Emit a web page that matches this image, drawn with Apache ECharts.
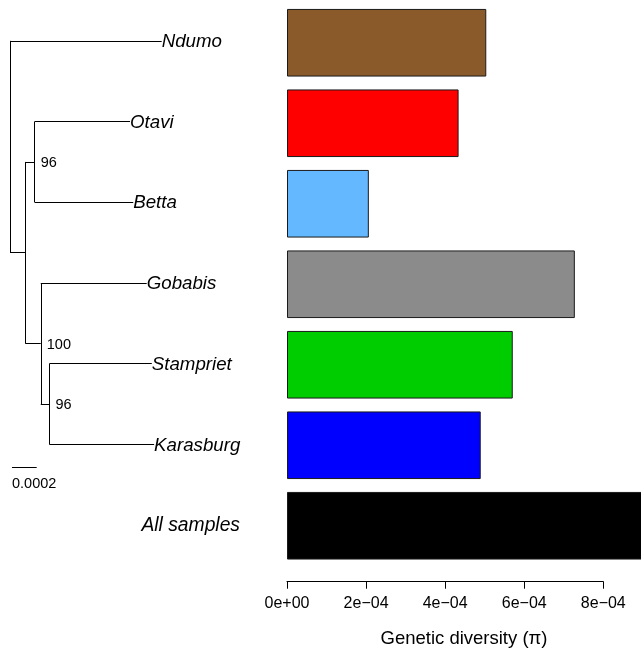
<!DOCTYPE html>
<html><head><meta charset="utf-8">
<script src="https://cdn.jsdelivr.net/npm/echarts@6/dist/echarts.min.js"></script>
<style>html,body{margin:0;padding:0;background:#fff}#c{width:641px;height:648px}</style>
</head><body><div id="c"></div>
<script>
// ---- data ----
const categories = ['Ndumo', 'Otavi', 'Betta', 'Gobabis', 'Stampriet', 'Karasburg', 'All samples'];
const diversity = [5.04e-4, 4.34e-4, 2.07e-4, 7.28e-4, 5.71e-4, 4.90e-4, 9.3e-4];
const barColors = ['#8B5A2B', '#FF0000', '#63B8FF', '#8B8B8B', '#00CD00', '#0000FF', '#000000'];
const xTicks = [0, 2e-4, 4e-4, 6e-4, 8e-4];
const axisTitle = 'Genetic diversity (\u03C0)';
// tree nodes: [label / support, branch length, children]
const tree = ['', 0, [
  ['Ndumo', 0.001228],
  ['', 0.000124, [
    ['96', 0.000076, [['Otavi', 0.000772], ['Betta', 0.000798]]],
    ['100', 0.000125, [
      ['Gobabis', 0.000858],
      ['96', 0.000070, [['Stampriet', 0.000829], ['Karasburg', 0.000848]]]
    ]]
  ]]
]];
const scaleBarLength = 0.0002;
const scaleBarLabel = '0.0002';

// ---- tree layout (cladogram with branch lengths) ----
let tipIdx = 0;
const segments = [], tipPts = [], nodePts = [];
function lay(node, x0) {
  const x = x0 + node[1];
  if (!node[2]) {
    const y = tipIdx++;
    tipPts.push({ name: node[0], value: [x, y] });
    segments.push({ coords: [[x0, y], [x, y]] });
    return y;
  }
  const ys = node[2].map(c => lay(c, x));
  const y = (ys[0] + ys[ys.length - 1]) / 2;
  segments.push({ coords: [[x, ys[0]], [x, ys[ys.length - 1]]] });
  if (node[1] > 0) segments.push({ coords: [[x0, y], [x, y]] });
  if (node[0]) nodePts.push({ name: node[0], value: [x, y] });
  return y;
}
lay(tree, 0);
const sbX = 0.000016, sbY = 5.283;
segments.push({ coords: [[sbX, sbY], [sbX + scaleBarLength, sbY]] });

const FONT = '"Liberation Sans", Arial, Helvetica, sans-serif';
function fmtTick(v) {
  if (v === 0) return '0e+00';
  const parts = v.toExponential(0).split('e');
  const e = parseInt(parts[1], 10);
  return parts[0] + 'e' + (e < 0 ? '\u2212' : '+') + String(Math.abs(e)).padStart(2, '0');
}

const chart = echarts.init(document.getElementById('c'), null, { renderer: 'canvas' });
chart.setOption({
  animation: false,
  backgroundColor: '#ffffff',
  textStyle: { fontFamily: FONT },
  grid: [
    { left: 287, right: 37.7, top: 2.5, bottom: 82, containLabel: false },
    { left: 10, top: 0.5, width: 247, height: 565, containLabel: false }
  ],
  xAxis: [
    {
      type: 'value', gridIndex: 0, min: 0, max: 8e-4, interval: 2e-4, offset: 15.7,
      splitLine: { show: false },
      axisLine: { show: true, onZero: false, lineStyle: { color: '#000', width: 1 } },
      axisTick: { show: true, inside: false, length: 7, lineStyle: { color: '#000' } },
      axisLabel: { color: '#000', fontSize: 16, margin: 14, fontFamily: FONT, formatter: fmtTick,
                   showMinLabel: true, showMaxLabel: true }
    },
    { type: 'value', gridIndex: 1, min: 0, max: 0.002, show: false }
  ],
  yAxis: [
    {
      type: 'category', gridIndex: 0, data: categories, inverse: true,
      axisLine: { show: false }, axisTick: { show: false }, splitLine: { show: false },
      axisLabel: {
        show: true, margin: 47, fontSize: 19.3, fontStyle: 'italic', color: '#000', fontFamily: FONT,
        padding: [0, 0, 8, 0],
        formatter: v => (v === 'All samples' ? v : '')
      }
    },
    { type: 'value', gridIndex: 1, min: -0.5, max: 6.5, inverse: true, show: false }
  ],
  graphic: [{
    type: 'text', left: 463.5 - 83, top: 629,
    style: { text: axisTitle, fontSize: 18.5, fontFamily: FONT, fill: '#000' }
  }],
  series: [
    {
      type: 'bar', xAxisIndex: 0, yAxisIndex: 0, clip: false,
      barCategoryGap: '16%',
      data: diversity.map((v, i) => ({
        value: v,
        itemStyle: { color: barColors[i], borderColor: '#1a1a1a', borderWidth: 1 }
      }))
    },
    {
      type: 'lines', coordinateSystem: 'cartesian2d', xAxisIndex: 1, yAxisIndex: 1,
      polyline: false, silent: true,
      lineStyle: { color: '#000', width: 1, opacity: 1 },
      data: segments
    },
    {
      type: 'scatter', xAxisIndex: 1, yAxisIndex: 1, symbolSize: 0, silent: true,
      itemStyle: { opacity: 1 },
      data: tipPts,
      label: { show: true, position: 'right', distance: 0, formatter: '{b}', fontSize: 18.7,
               fontStyle: 'italic', color: '#000', opacity: 1, fontFamily: FONT, offset: [0, 1] }
    },
    {
      type: 'scatter', xAxisIndex: 1, yAxisIndex: 1, symbolSize: 0, silent: true,
      itemStyle: { opacity: 1 },
      data: nodePts,
      label: { show: true, position: 'right', distance: 6, formatter: '{b}', fontSize: 14.5,
               color: '#000', opacity: 1, fontFamily: FONT, offset: [0, 1] }
    },
    {
      type: 'scatter', xAxisIndex: 1, yAxisIndex: 1, symbolSize: 0, silent: true,
      itemStyle: { opacity: 1 },
      data: [{ name: scaleBarLabel, value: [sbX, sbY] }],
      label: { show: true, position: 'bottom', align: 'left', distance: 9, formatter: '{b}',
               fontSize: 14.5, color: '#000', opacity: 1, fontFamily: FONT }
    }
  ]
});
</script>
</body></html>
